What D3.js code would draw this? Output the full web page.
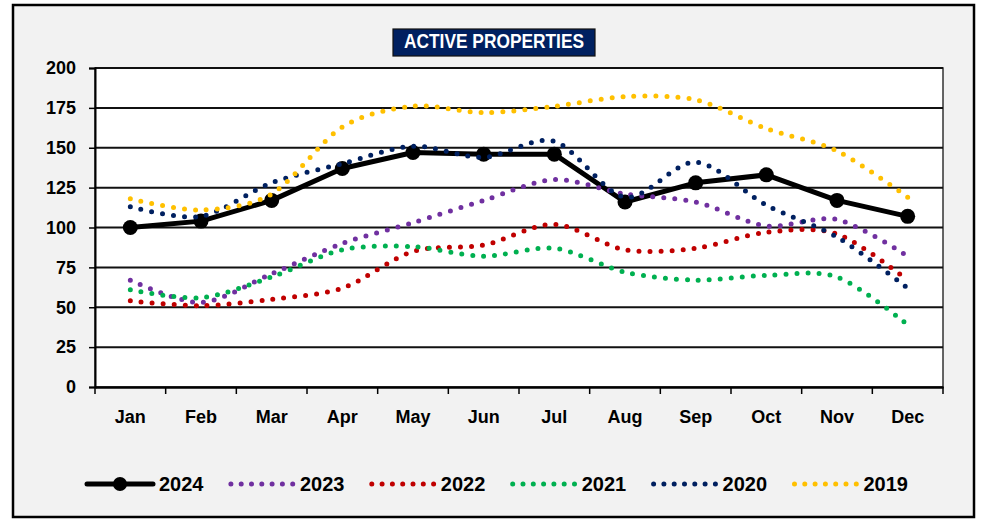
<!DOCTYPE html>
<html>
<head>
<meta charset="utf-8">
<script src="https://cdn.jsdelivr.net/npm/d3@7"></script>
<style>
  body { margin: 0; background: #fff; }
  svg text { font-family: "Liberation Sans", Arial, sans-serif; font-weight: bold; }
</style>
</head>
<body>
<svg id="chart" width="982" height="520"></svg>
<script>
const months = ["Jan", "Feb", "Mar", "Apr", "May", "Jun", "Jul", "Aug", "Sep", "Oct", "Nov", "Dec"];
const yTicks = [0, 25, 50, 75, 100, 125, 150, 175, 200];

const v2024 = [100, 104, 117, 137, 147, 146, 146, 116, 128, 133, 117, 107];
const v2023 = [67, 53, 71, 90, 103, 117, 130, 121, 116, 101, 105, 82];
const v2022 = [54, 51, 55, 62, 85, 89, 102, 86, 87, 97, 96, 67];
const v2021 = [61, 56, 69, 86, 88, 82, 87, 72, 67, 70, 69, 39];
const v2020 = [113, 107, 128, 140, 151, 144, 154, 119, 141, 114, 94, 62];
const v2019 = [118, 111, 121, 163, 176, 172, 176, 182, 180, 162, 148, 119];

const seriesNames = ["2024", "2023", "2022", "2021", "2020", "2019"];
const seriesValues = [v2024, v2023, v2022, v2021, v2020, v2019];
const seriesColors = ["#000000", "#7030A0", "#C00000", "#00B050", "#002060", "#FFC000"];

const svg = d3.select("#chart");
const plot = { left: 95, right: 943, top: 68, bottom: 387 };

// outer frame
svg.append("rect")
    .attr("x", 13).attr("y", 5)
    .attr("width", 961).attr("height", 512)
    .attr("fill", "#f2f2f2")
    .attr("stroke", "#000").attr("stroke-width", 2.5);

// title
svg.append("rect")
    .attr("x", 393).attr("y", 29)
    .attr("width", 202).attr("height", 27)
    .attr("fill", "#002060")
    .attr("stroke", "#111").attr("stroke-width", 1.2);
svg.append("text")
    .attr("x", 494).attr("y", 48)
    .attr("text-anchor", "middle")
    .attr("fill", "#fff")
    .attr("textLength", 180)
    .attr("lengthAdjust", "spacingAndGlyphs")
    .style("font-size", "20px")
    .text("ACTIVE PROPERTIES");

const x = d3.scaleBand().domain(months).range([plot.left, plot.right]).paddingInner(0).paddingOuter(0);
const y = d3.scaleLinear().domain([0, 200]).range([plot.bottom, plot.top]);
const cx = m => x(m) + x.bandwidth() / 2;

// plot area
svg.append("rect")
    .attr("x", plot.left).attr("y", plot.top)
    .attr("width", plot.right - plot.left).attr("height", plot.bottom - plot.top)
    .attr("fill", "#fff")
    .attr("stroke", "#333").attr("stroke-width", 1.5);

// gridlines
svg.append("g").selectAll("line")
    .data(yTicks.filter(d => d > 0))
    .join("line")
    .attr("x1", plot.left).attr("x2", plot.right)
    .attr("y1", d => y(d)).attr("y2", d => y(d))
    .attr("stroke", "#111").attr("stroke-width", 2);

// y axis
const yAxisG = svg.append("g")
    .attr("transform", `translate(${plot.left},0)`)
    .call(d3.axisLeft(y).tickValues(yTicks).tickSize(6).tickPadding(13));
yAxisG.select(".domain").attr("stroke", "#000").attr("stroke-width", 2);
yAxisG.selectAll(".tick line").attr("stroke", "#000").attr("stroke-width", 1.5);
yAxisG.selectAll(".tick text").style("font-size", "18px").attr("fill", "#000");

// x axis
const xAxisG = svg.append("g")
    .attr("transform", `translate(0,${plot.bottom})`)
    .call(d3.axisBottom(x).tickSize(0).tickPadding(23));
xAxisG.select(".domain").attr("stroke", "#000").attr("stroke-width", 2.5);
xAxisG.selectAll(".tick text").style("font-size", "18px").attr("fill", "#000");
xAxisG.selectAll(".boundary")
    .data(months.map(m => x(m)).concat([plot.right]))
    .join("line")
    .attr("class", "boundary")
    .attr("x1", d => d).attr("x2", d => d)
    .attr("y1", 0).attr("y2", 7)
    .attr("stroke", "#000").attr("stroke-width", 1.5);

const line = d3.line()
    .x((d, i) => cx(months[i]))
    .y(d => y(d));
const smooth = d3.line()
    .x((d, i) => cx(months[i]))
    .y(d => y(d))
    .curve(d3.curveCardinal.tension(0.1));

// 2024 series
svg.append("path")
    .attr("d", line(v2024))
    .attr("fill", "none")
    .attr("stroke", "#000").attr("stroke-width", 5)
    .attr("stroke-linejoin", "round");
svg.append("g").selectAll("circle")
    .data(v2024)
    .join("circle")
    .attr("cx", (d, i) => cx(months[i]))
    .attr("cy", d => y(d))
    .attr("r", 7.5)
    .attr("fill", "#000");

// dotted series
seriesValues.slice(1).forEach((vals, k) => {
    svg.append("path")
        .attr("d", smooth(vals))
        .attr("fill", "none")
        .attr("stroke", seriesColors[k + 1])
        .attr("stroke-width", 5)
        .attr("stroke-linecap", "round")
        .attr("stroke-dasharray", "0 11");
});

// legend
const legend = svg.append("g").attr("transform", "translate(0,484)");
seriesNames.forEach((name, i) => {
    const x0 = 88 + i * 140.9;
    const item = legend.append("g");
    if (i === 0) {
        item.append("line")
            .attr("x1", x0 - 1).attr("x2", x0 + 65)
            .attr("stroke", "#000").attr("stroke-width", 5)
            .attr("stroke-linecap", "round");
        item.append("circle").attr("cx", x0 + 32).attr("r", 7).attr("fill", "#000");
    } else {
        item.append("line")
            .attr("x1", x0 + 2).attr("x2", x0 + 66)
            .attr("stroke", seriesColors[i]).attr("stroke-width", 5)
            .attr("stroke-linecap", "round")
            .attr("stroke-dasharray", "0 10.3");
    }
    item.append("text")
        .attr("x", x0 + 71).attr("y", 7)
        .style("font-size", "20px")
        .attr("fill", "#000")
        .text(name);
});
</script>
</body>
</html>
